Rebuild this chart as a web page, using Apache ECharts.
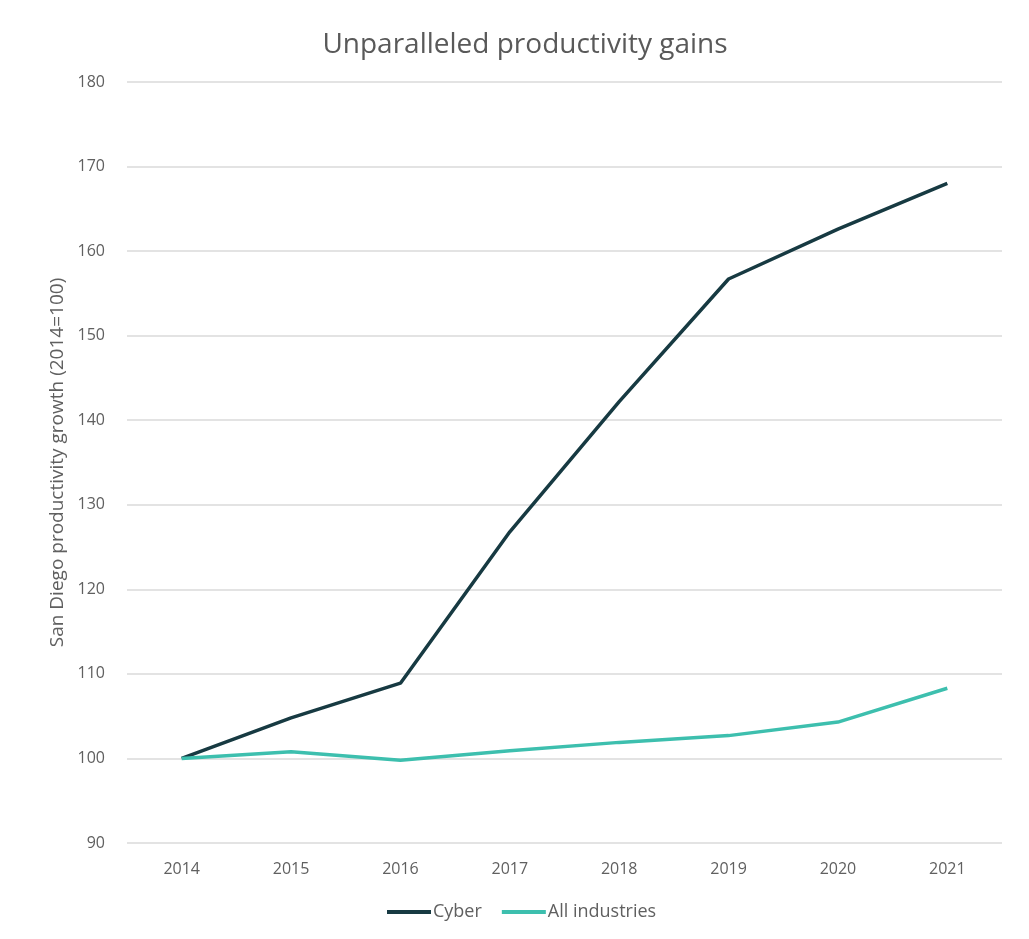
<!DOCTYPE html>
<html><head><meta charset="utf-8">
<script src="https://cdn.jsdelivr.net/npm/echarts@6/dist/echarts.min.js"></script>
<style>html,body{margin:0;padding:0;background:#fff}#c{width:1029px;height:939px}</style>
</head><body><div id="c"></div>
<script>
const years = ['2014','2015','2016','2017','2018','2019','2020','2021'];
const cyber = [100, 104.8, 108.9, 126.8, 142.2, 156.7, 162.6, 168.0];
const allIndustries = [100, 100.8, 99.8, 100.9, 101.9, 102.7, 104.3, 108.3];
const chart = echarts.init(document.getElementById('c'));
const font = '"Open Sans", sans-serif';
chart.setOption({
  backgroundColor: '#fff',
  title: { text: 'Unparalleled productivity gains', left: 520, textAlign: 'center', top: 26,
    textStyle: { fontFamily: font, fontSize: 28, fontWeight: 'normal', color: '#595959' } },
  legend: { bottom: 13, left: 382, itemWidth: 44, itemHeight: 4, itemGap: 20,
    icon: 'rect',
    textStyle: { fontFamily: font, fontSize: 18, color: '#606060', padding: [0,0,0,-3] },
    data: ['Cyber', 'All industries'] },
  grid: { left: 127, right: 27, top: 82, bottom: 96 },
  xAxis: { type: 'category', data: years, boundaryGap: true,
    axisLine: { show: false }, axisTick: { show: false },
    axisLabel: { fontFamily: font, fontSize: 16, color: '#606060', margin: 18 } },
  yAxis: { type: 'value', min: 90, max: 180, interval: 10,
    name: 'San Diego productivity growth (2014=100)', nameLocation: 'middle', nameGap: 60,
    nameTextStyle: { fontFamily: font, fontSize: 19, color: '#606060' },
    axisLine: { show: false }, axisTick: { show: false },
    axisLabel: { fontFamily: font, fontSize: 16, color: '#606060', margin: 22 },
    splitLine: { lineStyle: { color: '#e3e3e3', width: 2 } } },
  series: [
    { name: 'Cyber', type: 'line', data: cyber, symbol: 'none',
      lineStyle: { color: '#173a42', width: 3.5 }, itemStyle: { color: '#173a42' } },
    { name: 'All industries', type: 'line', data: allIndustries, symbol: 'none',
      lineStyle: { color: '#3dbfae', width: 3.5 }, itemStyle: { color: '#3dbfae' } }
  ]
});
</script></body></html>
